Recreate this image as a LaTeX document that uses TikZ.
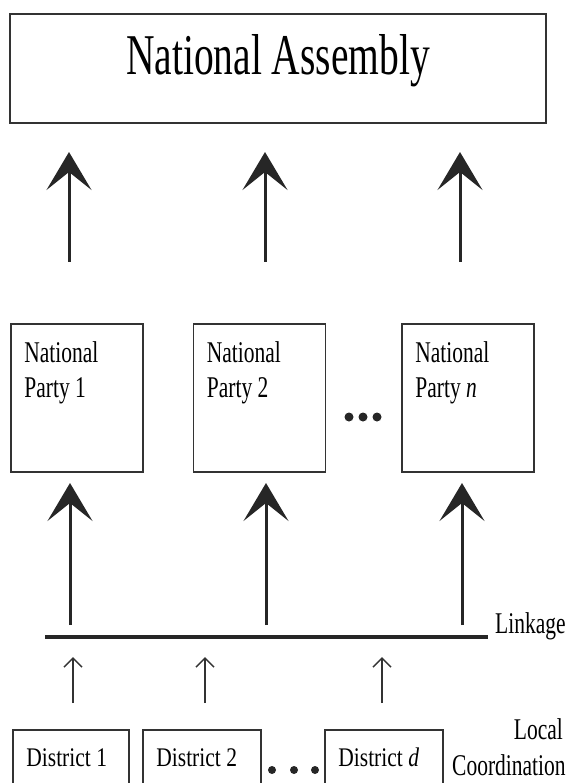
\documentclass[tikz,border=0pt]{standalone}
\usepackage{fontspec}
\setmainfont{Liberation Serif}
\usetikzlibrary{arrows.meta,positioning}
\newcommand{\tall}[2][1.4]{\scalebox{1}[#1]{#2}}

\begin{document}
\begin{tikzpicture}[x=1pt,y=-1pt,
		box/.style={draw=black!80, line width=1.6pt, inner sep=0pt},
		txt/.style={inner sep=0pt, font=\fontsize{21.5}{25}\selectfont},
		bigarrow/.style={line width=3pt, draw=black!85, -{Stealth[length=38pt,width=45pt,inset=18pt]}},
		smallarrow/.style={line width=1.5pt, draw=black!80, -{Straight Barb[length=9pt,width=18pt]}}]
				\useasboundingbox (0,0) rectangle (566,783);
				\clip (0,0) rectangle (566,783);
				
				% assembly
				\node[box, minimum width=536pt, minimum height=109pt] (na) at (278,68.5) {};
				\node[inner sep=0pt, anchor=base, font=\fontsize{39.5}{45}\selectfont] (naText) at (278,75) {\tall[1.46]{National Assembly}};
				
				% parties
				\foreach \n/\x/\lab in
				{1/77/1, 2/259.5/2, 3/468/\textit{n}}{
					\node[box, minimum width=132pt, minimum height=148pt] (p\n) at (\x,398) {};
					\node[txt, anchor=base west] (p\n text) at ([xshift=14pt,yshift=-39pt]p\n.north west)
						{\tall{\begin{tabular}[t]{@{}l@{}}National\\Party \lab\end{tabular}}};
				}
				\foreach \x in {349,363,377}
					\fill[black!85] (\x,417) circle (4.5pt);
				
				% arrows up to the assembly
				\foreach \n/\x in
				{1/69, 2/265, 3/460}{
					\coordinate (ub\n) at (\x,262);
					\coordinate (ut\n) at (\x,152);
					\draw[bigarrow] (ub\n) -- (ut\n);
				}
				
				% arrows up to the parties
				\foreach \n/\x in
				{1/70, 2/266, 3/462}{
					\coordinate (lb\n) at (\x,625);
					\coordinate (lt\n) at (\x,483);
					\draw[bigarrow] (lb\n) -- (lt\n);
				}
				
				% linkage
				\coordinate (kL) at (45,637);
				\coordinate (kR) at (488,637);
				\draw[line width=4pt, black!85] (kL) -- (kR);
				\node[txt, anchor=base west] (link) at (495,633) {\tall{Linkage}};
				
				% districts
				\foreach \n/\x/\w/\lab in
				{1/71/116/1, 2/202/118/2, 3/384/118/\textit{d}}{
					\node[box, minimum width=\w pt, minimum height=70pt] (d\n) at (\x,765) {};
					\node[txt, anchor=base west] (d\n text) at ([xshift=14pt,yshift=-37pt]d\n.north west)
						{\tall[1.25]{District \lab}};
				}
				\foreach \x in {272,294,315}
					\fill[black!85] (\x,770) circle (4pt);
				\foreach \n/\x in
				{1/73, 2/205, 3/382}{
					\coordinate (sb\n) at (\x,703);
					\coordinate (st\n) at (\x,657);
					\draw[smallarrow] (sb\n) -- (st\n);
				}
				\node[txt, anchor=base east] (loc) at (563,739) {\tall{Local}};
				\node[txt, anchor=base west] (coord) at (452,775) {\tall{Coordination}};
			\end{tikzpicture}
\end{document}
